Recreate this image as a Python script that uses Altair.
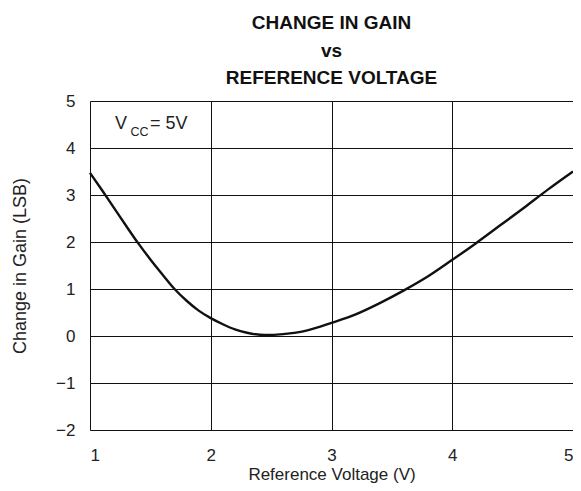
import altair as alt
import pandas as pd

# Curve data
volts = [1.0, 1.1, 1.2, 1.3, 1.4, 1.5, 1.6, 1.7, 1.8, 1.9, 2.0, 2.1, 2.2, 2.3, 2.45,
         2.6, 2.8, 3.0, 3.2, 3.4, 3.6, 3.8, 4.0, 4.2, 4.4, 4.6, 4.8, 5.0]
gain = [3.47, 3.10, 2.72, 2.34, 1.97, 1.63, 1.31, 1.00, 0.75, 0.54, 0.38, 0.25, 0.14, 0.07, 0.02,
        0.04, 0.12, 0.28, 0.46, 0.70, 0.97, 1.27, 1.62, 1.98, 2.36, 2.74, 3.13, 3.50]

x_ticks = [1, 2, 3, 4, 5]
y_ticks = [-2, -1, 0, 1, 2, 3, 4, 5]

# Annotation pieces: V, subscript CC, "= 5V"
ann_text = ["V", "CC", "= 5V"]
ann_x = [1.208, 1.335, 1.497]
ann_y = [4.40, 4.255, 4.40]
ann_size = [18, 12.5, 18]

FONT = "Liberation Sans"
INK = "#222222"

df = pd.DataFrame({"v": volts, "g": gain})
ann = pd.DataFrame({"t": ann_text, "x": ann_x, "y": ann_y, "s": ann_size})

xscale = alt.Scale(domain=[1, 5], nice=False, zero=False)
yscale = alt.Scale(domain=[-2, 5], nice=False, zero=False)

line = alt.Chart(df).mark_line(color="#111111", strokeWidth=2.4, interpolate="monotone").encode(
    x=alt.X("v:Q", scale=xscale,
            axis=alt.Axis(title="Reference Voltage (V)", values=x_ticks, format="d",
                          ticks=False, domain=False, grid=True, gridColor="#111111",
                          gridWidth=1, gridOpacity=1, labelFontSize=17, labelFont=FONT,
                          labelColor=INK, labelPadding=17, titleFontSize=17, titleFont=FONT,
                          titleFontWeight="normal", titleColor=INK, titlePadding=3)),
    y=alt.Y("g:Q", scale=yscale,
            axis=alt.Axis(title="Change in Gain (LSB)", values=y_ticks,
                          labelExpr="replace(datum.label, '-', '\u2212')",
                          ticks=False, domain=False, grid=True, gridColor="#111111",
                          gridWidth=1, gridOpacity=1, labelFontSize=17, labelFont=FONT,
                          labelColor=INK, labelPadding=15, titleFontSize=18, titleFont=FONT,
                          titleFontWeight="normal", titleColor=INK, titlePadding=26)),
)

text = alt.Chart(ann).mark_text(align="left", baseline="alphabetic", font=FONT, color=INK).encode(
    x=alt.X("x:Q", scale=xscale),
    y=alt.Y("y:Q", scale=yscale),
    text="t:N",
    size=alt.Size("s:Q", scale=None, legend=None),
)

chart = alt.layer(line, text).properties(
    width=483,
    height=329,
    autosize=alt.AutoSizeParams(type="none"),
    padding={"left": 82, "top": 93, "right": 0, "bottom": 53},
    title=alt.TitleParams(
        ["CHANGE IN GAIN", "vs", "REFERENCE VOLTAGE"],
        font=FONT, fontSize=19, fontWeight="bold", color="#111111",
        anchor="middle", lineHeight=27.5, offset=4,
    ),
).configure_view(stroke="#222222", strokeWidth=2.2).configure(background="white")

chart.save("out.html", embed_options={"renderer": "svg", "actions": False})
